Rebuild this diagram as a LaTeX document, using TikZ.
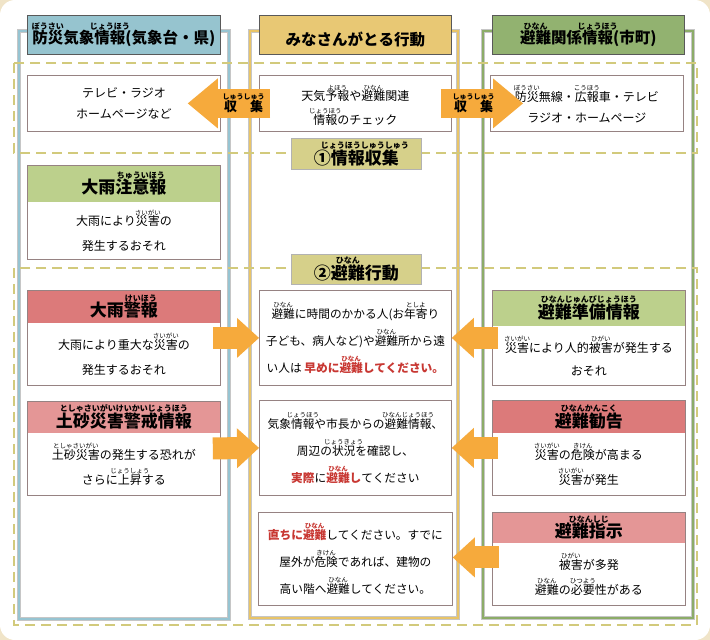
\documentclass[tikz,border=0pt]{standalone}
\usepackage{fontspec}
\setmainfont{Noto Sans CJK JP}
\usetikzlibrary{arrows.meta,calc}

\definecolor{bgbeige}{RGB}{240,228,200}
\definecolor{blueln}{RGB}{150,196,210}
\definecolor{goldln}{RGB}{232,196,104}
\definecolor{greenln}{RGB}{140,172,104}
\definecolor{bluehd}{RGB}{150,196,207}
\definecolor{goldhd}{RGB}{232,200,116}
\definecolor{greenhd}{RGB}{146,178,112}
\definecolor{secline}{RGB}{210,202,124}
\definecolor{seclab}{RGB}{214,208,138}
\definecolor{lightgreen}{RGB}{188,208,140}
\definecolor{redhd}{RGB}{220,122,122}
\definecolor{pinkhd}{RGB}{228,150,150}
\definecolor{redtx}{RGB}{200,55,50}
\definecolor{boxline}{RGB}{150,130,130}
\definecolor{arrorange}{RGB}{246,170,60}

% furigana
\newcommand\rbsz{6.5}
\newcommand\rb[2]{\setbox0\hbox{#1}\leavevmode\vbox{\offinterlineskip\hbox to\wd0{\hss\fontsize{\rbsz}{\rbsz}\selectfont#2\hss}\kern0.5pt\box0}}

\tikzset{
  colframe/.style={draw=#1, line width=2.5pt, preaction={draw=gray!45, line width=3.6pt}},
  secframe/.style={draw=secline, line width=2.8pt, dash pattern=on 10pt off 6pt},
  coltitle/.style={fill=#1, draw=gray!70!black, line width=0.6pt, inner sep=0pt, anchor=north west,
    minimum height=39pt, font={\fontsize{15.5}{18}\selectfont\bfseries\def\rbsz{8}}},
  infobox/.style={draw=boxline, line width=0.8pt, fill=white, inner sep=0pt, anchor=north west},
  headbox/.style={fill=#1, inner sep=0pt, anchor=north, minimum width=192.2pt,
    font={\fontsize{17}{19}\selectfont\bfseries\def\rbsz{8}}},
  bodytext/.style={align=center, inner sep=0pt, font={\fontsize{12}{25}\selectfont}},
  midtext/.style={align=center, inner sep=0pt, font={\fontsize{11.7}{27}\selectfont}},
  seclabel/.style={fill=seclab, draw=gray!60, line width=0.6pt, inner sep=0pt, anchor=north west,
    minimum width=130pt, font={\fontsize{17}{19}\selectfont\bfseries\def\rbsz{8}}},
  bigarr/.style={draw=arrorange, line width=29pt, -{Triangle[width=50pt,length=30pt,line width=0pt]}},
  rowarr/.style={draw=arrorange, line width=22pt, -{Triangle[width=40pt,length=22pt,line width=0pt]}},
  arrtext/.style={inner sep=0pt, font={\fontsize{13}{15}\selectfont\bfseries\def\rbsz{7}}},
}

\begin{document}
\begin{tikzpicture}[x=1pt,y=-1pt]
\useasboundingbox (0,0) rectangle (710,640);
\fill[bgbeige] (0,0) rectangle (710,640);
\fill[white,rounded corners=15pt] (0,0) rectangle (710,640);

% columns
\draw[colframe=blueln] (19,31) rectangle (229,619);
\draw[colframe=goldln] (250,31) rectangle (458,618);
\draw[colframe=greenln] (483,31) rectangle (693,618);

% sections
\draw[secframe] (14,63) rectangle (697,153);
\draw[secframe] (14,268) rectangle (697,625);

% column titles
\node[coltitle=bluehd, minimum width=193] (bosai) at (27,15) {\rb{防災}{ぼうさい}気象\rb{情報}{じょうほう}(気象台・県)};
\node[coltitle=goldhd, minimum width=192] (kodo) at (259,15) {\rb{みなさんがとる行動}{\strut}};
\node[coltitle=greenhd, minimum width=192] (kankei) at (492,15) {\rb{避難}{ひなん}関係\rb{情報}{じょうほう}(市町)};

% 1 information
\node[infobox, minimum width=193, minimum height=56] (tvL) at (27,75) {};
\node[bodytext, font={\fontsize{12}{21}\selectfont}] (tvT) at (tvL.center) {テレビ・ラジオ\\ホームページなど};
\node[infobox, minimum width=192, minimum height=56] (chkM) at (259,75) {};
\node[bodytext, font={\fontsize{12}{24}\selectfont}] (chkT) at ([yshift=-2pt]chkM.center) {天気\rb{予報}{よほう}や\rb{避難}{ひなん}関連\\\rb{情報}{じょうほう}のチェック};
\node[infobox, minimum width=193, minimum height=56] (musenR) at (490,75) {};
\node[bodytext, font={\fontsize{12}{21}\selectfont}] (musenT) at ([yshift=-1pt]musenR.center) {\rb{防災}{ぼうさい}無線・\rb{広報}{こうほう}車・テレビ\\ラジオ・ホームページ};

% advisory
\node[infobox, minimum width=193, minimum height=94] (chuiL) at (27,165) {};
\node[headbox=lightgreen, minimum height=36] (chuiH) at ([yshift=-0.4pt]chuiL.north) {大雨\rb{注意報}{ちゅういほう}};
\node[bodytext] (chuiT) at ($(chuiH.south)!0.5!(chuiL.south)$) {大雨により\rb{災害}{さいがい}の\\発生するおそれ};

% 2 evacuation, left
\node[infobox, minimum width=193, minimum height=95] (keihoL) at (27,290) {};
\node[headbox=redhd, minimum height=32] (keihoH) at ([yshift=-0.4pt]keihoL.north) {大雨\rb{警報}{けいほう}};
\node[bodytext] (keihoT) at ($(keihoH.south)!0.5!(keihoL.south)$) {大雨により重大な\rb{災害}{さいがい}の\\発生するおそれ};
\node[infobox, minimum width=193, minimum height=94] (dosyaL) at (27,401) {};
\node[headbox=pinkhd, minimum height=31] (dosyaH) at ([yshift=-0.4pt]dosyaL.north) {\rb{土砂災害警戒情報}{としゃさいがいけいかいじょうほう}};
\node[bodytext] (dosyaT) at ($(dosyaH.south)!0.5!(dosyaL.south)$) {\rb{土砂災害}{としゃさいがい}の発生する恐れが\\さらに\rb{上昇}{じょうしょう}する};

% 2 evacuation, middle
\node[infobox, minimum width=192, minimum height=95] (hayameM) at (259,290) {};
\node[midtext] (hayameT) at (hayameM.center) {\rb{避難}{ひなん}に時間のかかる人(お\rb{年寄}{としよ}り\\子ども、病人など)や\rb{避難}{ひなん}所から遠\\い人は \textcolor{redtx}{\bfseries 早めに\rb{避難}{ひなん}してください。}};
\node[infobox, minimum width=192, minimum height=95] (kakuninM) at (259,400) {};
\node[midtext] (kakuninT) at (kakuninM.center) {気象\rb{情報}{じょうほう}や市長からの\rb{避難情報}{ひなんじょうほう}、\\周辺の\rb{状況}{じょうきょう}を確認し、\\\textcolor{redtx}{\bfseries 実際}に\textcolor{redtx}{\bfseries\rb{避難}{ひなん}し}てください};
\node[infobox, minimum width=194, minimum height=93] (tadachiM) at (258,512) {};
\node[midtext] (tadachiT) at (tadachiM.center) {\textcolor{redtx}{\bfseries 直ちに\rb{避難}{ひなん}}してください。すでに\\屋外が\rb{危険}{きけん}であれば、建物の\\高い階へ\rb{避難}{ひなん}してください。};

% 2 evacuation, right
\node[infobox, minimum width=193, minimum height=95] (junbiR) at (492,290) {};
\node[headbox=lightgreen, minimum height=35] (junbiH) at ([yshift=-0.4pt]junbiR.north) {\rb{避難準備情報}{ひなんじゅんびじょうほう}};
\node[bodytext, font={\fontsize{12}{23}\selectfont}] (junbiT) at ($(junbiH.south)!0.5!(junbiR.south)$) {\rb{災害}{さいがい}により人的\rb{被害}{ひがい}が発生する\\おそれ};
\node[infobox, minimum width=193, minimum height=95] (kankokuR) at (492,400) {};
\node[headbox=redhd, minimum height=32] (kankokuH) at ([yshift=-0.4pt]kankokuR.north) {\rb{避難勧告}{ひなんかんこく}};
\node[bodytext] (kankokuT) at ($(kankokuH.south)!0.5!(kankokuR.south)$) {\rb{災害}{さいがい}の\rb{危険}{きけん}が高まる\\\rb{災害}{さいがい}が発生};
\node[infobox, minimum width=193, minimum height=93] (shijiR) at (492,512) {};
\node[headbox=pinkhd, minimum height=30] (shijiH) at ([yshift=-0.4pt]shijiR.north) {\rb{避難指示}{ひなんしじ}};
\node[bodytext] (shijiT) at ($(shijiH.south)!0.5!(shijiR.south)$) {\rb{被害}{ひがい}が多発\\\rb{避難}{ひなん}の\rb{必要}{ひつよう}性がある};

% arrows
\draw[bigarr] ([xshift=11pt]chkM.west) -- node[arrtext, pos=0.32] {\rb{収　集}{しゅうしゅう}} ([xshift=-33pt]tvL.east);
\draw[bigarr] ([xshift=-11pt]chkM.east) -- node[arrtext, pos=0.4] {\rb{収　集}{しゅうしゅう}} ([xshift=33pt]musenR.west);
\draw[rowarr] ([xshift=-8pt]keihoL.east) -- (hayameM.west);
\draw[rowarr] ([xshift=-8pt]dosyaL.east) -- (kakuninM.west);
\draw[rowarr] ([xshift=6pt]junbiR.west) -- (hayameM.east);
\draw[rowarr] ([xshift=6pt]kankokuR.west) -- (kakuninM.east);
\draw[rowarr] ([xshift=7pt,yshift=1.5pt]shijiR.west) -- ([yshift=1.5pt]tadachiM.east);

% section labels
\node[seclabel, minimum height=31] (sec1) at (291,138) {①\rb{情報収集}{じょうほうしゅうしゅう}};
\node[seclabel, minimum height=30] (sec2) at (291,254) {②\rb{避難}{ひなん}行動};
\end{tikzpicture}
\end{document}
